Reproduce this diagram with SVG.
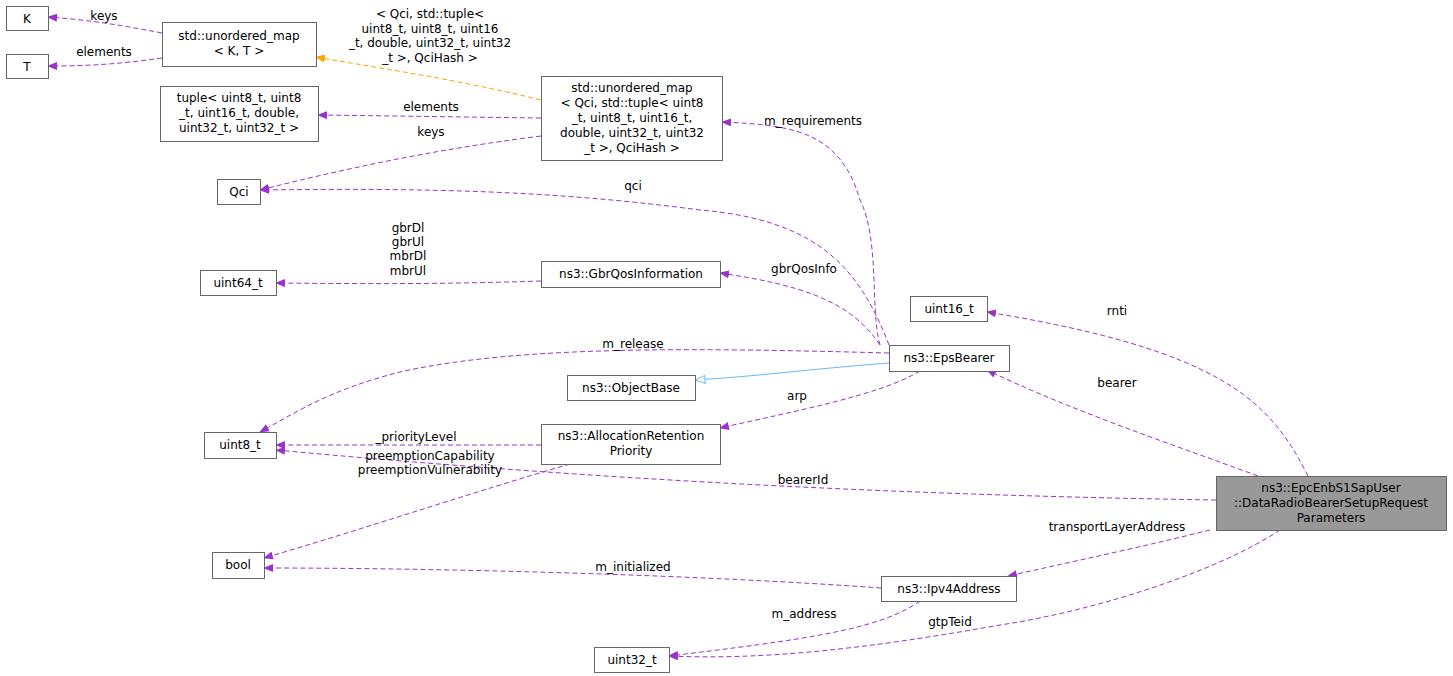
<svg xmlns="http://www.w3.org/2000/svg" width="1453" height="676" viewBox="0 0 1453 676">
<style>
.n rect{fill:#fff;stroke:#666;stroke-width:1}
text{font-family:"DejaVu Sans",sans-serif;font-size:12px;fill:#000}
.c{text-anchor:middle}
.e{fill:none;stroke:#9a32cd;stroke-dasharray:5,3}
</style>
<defs>
<marker id="p" markerWidth="10" markerHeight="8" refX="9" refY="4" orient="auto" markerUnits="userSpaceOnUse"><path d="M0,0L10,4L0,8z" fill="#9a32cd"/></marker>
<marker id="o" markerWidth="10" markerHeight="8" refX="9" refY="4" orient="auto" markerUnits="userSpaceOnUse"><path d="M0,0L10,4L0,8z" fill="#ffa500"/></marker>
<marker id="b" markerWidth="12" markerHeight="10" refX="11" refY="5" orient="auto" markerUnits="userSpaceOnUse"><path d="M1,1L11,5L1,9z" fill="#fff" stroke="#63b8ff"/></marker>
</defs>
<rect width="1453" height="676" fill="#fff"/>
<g id="edges">
<path class="e" d="M162,33 C120,25 90,20 48,17" marker-end="url(#p)"/>
<text class="c" x="104" y="20">keys</text>
<path class="e" d="M162,58 C120,64 90,66 48,66" marker-end="url(#p)"/>
<text class="c" x="104" y="56">elements</text>
<path d="M541,100 C460,80 390,70 316,57" fill="none" stroke="#ffa500" stroke-dasharray="5,3" marker-end="url(#o)"/>
<text class="c" x="430" y="18">&lt; Qci, std::tuple&lt;</text>
<text class="c" x="430" y="33">uint8_t, uint8_t, uint16</text>
<text class="c" x="430" y="47">_t, double, uint32_t, uint32</text>
<text class="c" x="430" y="62">_t &gt;, QciHash &gt;</text>
<path class="e" d="M541,118 C460,117 400,116 318,115" marker-end="url(#p)"/>
<text class="c" x="431" y="111">elements</text>
<path class="e" d="M541,136 C430,150 340,170 260,190" marker-end="url(#p)"/>
<text class="c" x="431" y="136">keys</text>
<path class="e" d="M880,345 C870,310 880,240 860,200 C840,130 790,125 722,122" marker-end="url(#p)"/>
<text class="c" x="813" y="125">m_requirements</text>
<path class="e" d="M889,345 C860,270 820,220 700,210 C550,190 420,188 260,190" marker-end="url(#p)"/>
<text class="c" x="633" y="190">qci</text>
<path class="e" d="M541,281 C450,284 380,284 276,283" marker-end="url(#p)"/>
<text class="c" x="408" y="232">gbrDl</text>
<text class="c" x="408" y="246">gbrUl</text>
<text class="c" x="408" y="260">mbrDl</text>
<text class="c" x="408" y="275">mbrUl</text>
<path class="e" d="M880,345 C850,300 800,285 720,273" marker-end="url(#p)"/>
<text class="c" x="804" y="273">gbrQosInfo</text>
<path class="e" d="M1216,500 C900,495 600,480 276,450" marker-end="url(#p)"/>
<text class="c" x="803" y="484">bearerId</text>
<path class="e" d="M889,353 C700,348 520,345 400,372 C330,390 300,410 260,432" marker-end="url(#p)"/>
<text class="c" x="633" y="348">m_release</text>
<path d="M889,363 C800,370 760,376 695,380" fill="none" stroke="#63b8ff" marker-end="url(#b)"/>
<path class="e" d="M920,371 C880,395 800,410 720,428" marker-end="url(#p)"/>
<text class="c" x="797" y="400">arp</text>
<path class="e" d="M541,445 C450,445 380,445 276,445" marker-end="url(#p)"/>
<text class="c" x="416" y="441">_priorityLevel</text>
<path class="e" d="M570,464 C480,490 360,530 264,558" marker-end="url(#p)"/>
<text class="c" x="430" y="460">preemptionCapability</text>
<text class="c" x="430" y="474">preemptionVulnerability</text>
<path class="e" d="M881,588 C700,575 450,568 264,568" marker-end="url(#p)"/>
<text class="c" x="633" y="571">m_initialized</text>
<path class="e" d="M920,601 C880,630 800,640 669,656" marker-end="url(#p)"/>
<text class="c" x="804" y="618">m_address</text>
<path class="e" d="M1280,530 C1220,570 1100,610 1000,625 C860,650 760,660 669,656" marker-end="url(#p)"/>
<text class="c" x="950" y="626">gtpTeid</text>
<path class="e" d="M1210,530 C1150,545 1080,560 1008,576" marker-end="url(#p)"/>
<text class="c" x="1117" y="531">transportLayerAddress</text>
<path class="e" d="M1258,476 C1160,440 1070,410 987,370" marker-end="url(#p)"/>
<text class="c" x="1117" y="387">bearer</text>
<path class="e" d="M1308,476 C1270,400 1220,350 987,312" marker-end="url(#p)"/>
<text class="c" x="1117" y="315">rnti</text>
</g>
<g id="K" class="n"><rect x="6.5" y="6.5" width="42" height="24"/><text class="c" x="27" y="23">K</text></g>
<g id="T" class="n"><rect x="6.5" y="54.5" width="42" height="24"/><text class="c" x="27" y="71">T</text></g>
<g id="umapKT" class="n"><rect x="162.5" y="22.5" width="154" height="44"/><text class="c" x="239" y="40">std::unordered_map</text><text class="c" x="239" y="55">&lt; K, T &gt;</text></g>
<g id="tuple" class="n"><rect x="160.5" y="86.5" width="158" height="55"/><text class="c" x="239" y="102">tuple&lt; uint8_t, uint8</text><text class="c" x="239" y="117">_t, uint16_t, double,</text><text class="c" x="239" y="132">uint32_t, uint32_t &gt;</text></g>
<g id="umapQci" class="n"><rect x="541.5" y="76.5" width="181" height="84"/><text class="c" x="632" y="92">std::unordered_map</text><text class="c" x="632" y="107">&lt; Qci, std::tuple&lt; uint8</text><text class="c" x="632" y="122">_t, uint8_t, uint16_t,</text><text class="c" x="632" y="137">double, uint32_t, uint32</text><text class="c" x="632" y="152">_t &gt;, QciHash &gt;</text></g>
<g id="Qci" class="n"><rect x="217.5" y="179.5" width="43" height="25"/><text class="c" x="239" y="196">Qci</text></g>
<g id="uint64" class="n"><rect x="200.5" y="270.5" width="76" height="25"/><text class="c" x="238" y="287">uint64_t</text></g>
<g id="gbr" class="n"><rect x="541.5" y="261.5" width="179" height="26"/><text class="c" x="631" y="278">ns3::GbrQosInformation</text></g>
<g id="uint16" class="n"><rect x="910.5" y="296.5" width="77" height="25"/><text class="c" x="949" y="313">uint16_t</text></g>
<g id="eps" class="n"><rect x="889.5" y="345.5" width="120" height="26"/><text class="c" x="949" y="362">ns3::EpsBearer</text></g>
<g id="objbase" class="n"><rect x="567.5" y="375.5" width="128" height="25"/><text class="c" x="631" y="392">ns3::ObjectBase</text></g>
<g id="uint8" class="n"><rect x="204.5" y="432.5" width="72" height="26"/><text class="c" x="240" y="449">uint8_t</text></g>
<g id="arp" class="n"><rect x="541.5" y="424.5" width="179" height="40"/><text class="c" x="631" y="440">ns3::AllocationRetention</text><text class="c" x="631" y="455">Priority</text></g>
<g id="main"><rect x="1216.5" y="476.5" width="230" height="54" fill="#999" stroke="#666"/><text class="c" x="1331" y="492">ns3::EpcEnbS1SapUser</text><text class="c" x="1331" y="507">::DataRadioBearerSetupRequest</text><text class="c" x="1331" y="522">Parameters</text></g>
<g id="bool" class="n"><rect x="212.5" y="552.5" width="52" height="26"/><text class="c" x="238" y="569">bool</text></g>
<g id="ipv4" class="n"><rect x="881.5" y="576.5" width="135" height="25"/><text class="c" x="949" y="593">ns3::Ipv4Address</text></g>
<g id="uint32" class="n"><rect x="594.5" y="647.5" width="75" height="25"/><text class="c" x="632" y="664">uint32_t</text></g>
</svg>
